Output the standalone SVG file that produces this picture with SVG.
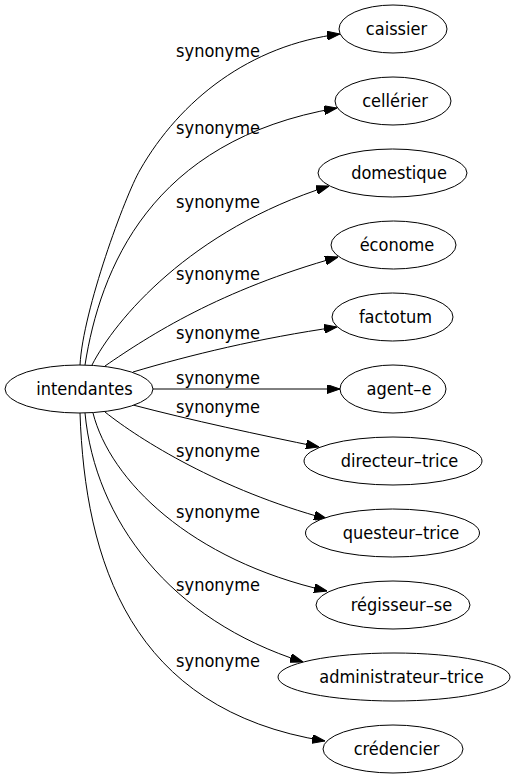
<svg xmlns="http://www.w3.org/2000/svg" width="515" height="779" viewBox="0 0 515 779">
<style>
text{font-family:"DejaVu Sans Condensed","DejaVu Sans",sans-serif;font-size:18px;fill:#000;text-anchor:middle}
ellipse{fill:#fff;stroke:#000;stroke-width:1}
.e path{fill:none;stroke:#000;stroke-width:1;marker-end:url(#ah)}
</style>
<defs>
<marker id="ah" markerUnits="userSpaceOnUse" markerWidth="13" markerHeight="9" refX="13" refY="4.5" orient="auto">
<path d="M0,0 L13,4.5 L0,9 z" fill="#000" stroke="#000" stroke-width="1"/>
</marker>
</defs>
<rect width="515" height="779" fill="#fff"/>
<g id="connectors" class="e">
<path d="M80,365 C83,310 125,196 140,170 C180,100 250,45 340,34"/>
<path d="M85,365 C100,270 150,140 337,108"/>
<path d="M92,365 C115,320 190,230 329,186"/>
<path d="M105,366 C150,335 220,290 338,257"/>
<path d="M133,372 C190,355 260,338 337,327"/>
<path d="M152,389 L340,389"/>
<path d="M133,405 C190,420 260,435 319,447"/>
<path d="M105,412 C140,440 220,490 327,519"/>
<path d="M93,413 C110,480 190,560 327,591"/>
<path d="M85,413 C95,520 170,620 303,662"/>
<path d="M80,413 C85,560 130,710 325,741"/>
</g>
<g id="labels">
<text x="218" y="57">synonyme</text>
<text x="218" y="134">synonyme</text>
<text x="218" y="208">synonyme</text>
<text x="218" y="280">synonyme</text>
<text x="218" y="339">synonyme</text>
<text x="218" y="384">synonyme</text>
<text x="218" y="413">synonyme</text>
<text x="218" y="457">synonyme</text>
<text x="218" y="518">synonyme</text>
<text x="218" y="591">synonyme</text>
<text x="218" y="667">synonyme</text>
</g>
<g id="intendantes"><ellipse cx="79" cy="389" rx="74" ry="24"/><text x="84.5" y="395">intendantes</text></g>
<g id="caissier"><ellipse cx="393" cy="29" rx="54" ry="24"/><text x="396.5" y="35">caissier</text></g>
<g id="cellerier"><ellipse cx="393" cy="101" rx="58" ry="24"/><text x="395" y="107">cellérier</text></g>
<g id="domestique"><ellipse cx="392.5" cy="173" rx="74.5" ry="24"/><text x="399" y="179">domestique</text></g>
<g id="econome"><ellipse cx="393.5" cy="245" rx="62.5" ry="24"/><text x="397" y="251">économe</text></g>
<g id="factotum"><ellipse cx="392.5" cy="317" rx="60.5" ry="24"/><text x="395.5" y="323">factotum</text></g>
<g id="agent-e"><ellipse cx="393" cy="389" rx="53" ry="24"/><text x="399" y="395">agent–e</text></g>
<g id="directeur-trice"><ellipse cx="393" cy="461" rx="89" ry="24"/><text x="399.5" y="467">directeur–trice</text></g>
<g id="questeur-trice"><ellipse cx="392.5" cy="533" rx="87" ry="24"/><text x="401" y="539">questeur–trice</text></g>
<g id="regisseur-se"><ellipse cx="393" cy="605" rx="77" ry="24"/><text x="401.5" y="611">régisseur–se</text></g>
<g id="administrateur-trice"><ellipse cx="394" cy="677" rx="116" ry="24"/><text x="401.5" y="683">administrateur–trice</text></g>
<g id="credencier"><ellipse cx="393" cy="749" rx="70" ry="24"/><text x="396.5" y="755">crédencier</text></g>
</svg>
